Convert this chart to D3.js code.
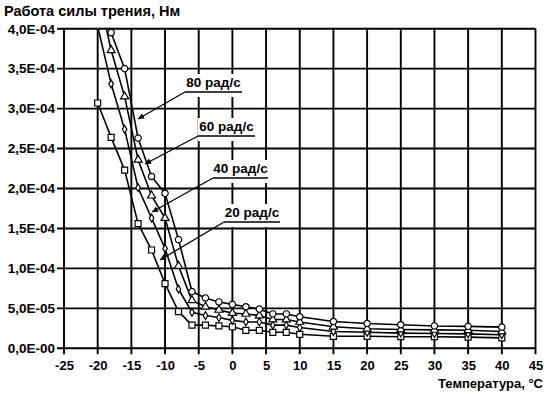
<!DOCTYPE html>
<html>
<head>
<meta charset="utf-8">
<script src="https://cdn.jsdelivr.net/npm/d3@7"></script>
<style>
body{margin:0;background:#fff;}
text{font-family:"Liberation Sans",Arial,sans-serif;font-weight:bold;fill:#000;}
</style>
</head>
<body>
<svg id="chart" width="549" height="394"></svg>
<script>
// donnees
var temps = [-20,-18,-16,-14,-12,-10,-8,-6,-4,-2,0,2,4,6,8,10,15,20,25,30,35,40];
var s20 = [30.7e-5,26.4e-5,22.3e-5,15.6e-5,12.3e-5,8.1e-5,4.6e-5,2.9e-5,2.9e-5,2.8e-5,2.7e-5,2.25e-5,2.25e-5,2.0e-5,2.0e-5,1.75e-5,1.5e-5,1.5e-5,1.45e-5,1.45e-5,1.4e-5,1.3e-5];
var s40 = [40.3e-5,33.1e-5,27.4e-5,20.1e-5,16.3e-5,12.5e-5,7.4e-5,4.5e-5,4.1e-5,3.85e-5,3.5e-5,3.3e-5,3.3e-5,2.9e-5,2.9e-5,2.6e-5,2.1e-5,2.0e-5,1.9e-5,1.85e-5,1.8e-5,1.7e-5];
var s60 = [45e-5,37.3e-5,31.5e-5,23.6e-5,19.1e-5,16.3e-5,10.3e-5,6.0e-5,5.2e-5,4.8e-5,4.4e-5,4.3e-5,4.1e-5,3.6e-5,3.6e-5,3.3e-5,2.7e-5,2.45e-5,2.35e-5,2.3e-5,2.25e-5,2.1e-5];
var s80 = [45e-5,39.5e-5,35.0e-5,26.3e-5,21.5e-5,19.4e-5,13.6e-5,7.1e-5,6.3e-5,5.8e-5,5.5e-5,5.2e-5,4.9e-5,4.3e-5,4.3e-5,3.95e-5,3.35e-5,3.1e-5,2.95e-5,2.8e-5,2.75e-5,2.65e-5];
var seriesNames = ["20 рад/с","40 рад/с","60 рад/с","80 рад/с"];
var xTicks = [-25,-20,-15,-10,-5,0,5,10,15,20,25,30,35,40,45];
var yTicks = [0,5e-5,1e-4,1.5e-4,2e-4,2.5e-4,3e-4,3.5e-4,4e-4];

var series = [
	{nom:seriesNames[0], vals:s20, sym:d3.symbolSquare, size:36},
	{nom:seriesNames[1], vals:s40, sym:d3.symbolDiamond, size:18},
	{nom:seriesNames[2], vals:s60, sym:d3.symbolTriangle, size:28},
	{nom:seriesNames[3], vals:s80, sym:d3.symbolCircle, size:32}
];

// etiquettes avec fleches (pixels)
var etiq = [
	{i:3, x0:185, x1:242, y:92,  tx:138, ty:119},
	{i:2, x0:198, x1:255, y:136, tx:145, ty:164},
	{i:1, x0:213, x1:268, y:178, tx:152, ty:212},
	{i:0, x0:224, x1:280, y:222, tx:160, ty:260}
];

var svg = d3.select("#chart");
var L = 64, R = 535.5, T = 28.7, B = 348.3;

var x = d3.scaleLinear().domain([-25,45]).range([L,R]);
var y = d3.scaleLinear().domain([0,4e-4]).range([B,T]);

function fmtY(v){
	if(v==0) return "0,0E-00";
	var e = Math.floor(Math.log10(v)+1e-9);
	var m = v/Math.pow(10,e);
	return m.toFixed(1).replace(".",",")+"E-"+(e<0?("0"+(-e)).slice(-2):"00");
}

// grille
var grille = svg.append("g");
grille.selectAll(".gv").data(xTicks).enter().append("line")
	.attr("x1",function(d){return x(d);}).attr("x2",function(d){return x(d);})
	.attr("y1",T).attr("y2",B+6)
	.attr("stroke","#000").attr("stroke-width",1.9);
grille.selectAll(".gh").data(yTicks).enter().append("line")
	.attr("x1",L-7).attr("x2",R)
	.attr("y1",function(d){return y(d);}).attr("y2",function(d){return y(d);})
	.attr("stroke","#000").attr("stroke-width",1.9);

// axes (textes seulement)
var axeX = svg.append("g").attr("transform","translate(0,"+B+")")
	.call(d3.axisBottom(x).tickValues(xTicks).tickSize(6).tickFormat(function(d){return String(d);}));
axeX.select(".domain").remove();
axeX.selectAll("line").remove();
axeX.selectAll("text").attr("font-size","13px").attr("y",12).attr("dy","0.71em")
	.style("font-family","Liberation Sans, Arial, sans-serif").style("font-weight","bold");

var axeY = svg.append("g").attr("transform","translate("+L+",0)")
	.call(d3.axisLeft(y).tickValues(yTicks).tickSize(7).tickFormat(fmtY));
axeY.select(".domain").remove();
axeY.selectAll("line").remove();
axeY.selectAll("text").attr("font-size","13.5px").attr("x",-9)
	.style("font-family","Liberation Sans, Arial, sans-serif").style("font-weight","bold");

svg.append("text").attr("x",4).attr("y",16).attr("font-size","14.5px").text("Работа силы трения, Нм");
svg.append("text").attr("x",543).attr("y",388).attr("text-anchor","end").attr("font-size","13px").text("Температура, °С");

// courbes
svg.append("clipPath").attr("id","zone").append("rect")
	.attr("x",L-5).attr("y",T-1).attr("width",R-L+10).attr("height",B-T+6);

var ligne = d3.line().x(function(d){return x(d[0]);}).y(function(d){return y(d[1]);});
var courbes = svg.append("g").attr("clip-path","url(#zone)");
series.forEach(function(s){
	var pts = temps.map(function(t,k){return [t,s.vals[k]];});
	courbes.append("path").datum(pts).attr("d",ligne)
		.attr("fill","none").attr("stroke","#000").attr("stroke-width",1.6);
	courbes.selectAll(null).data(pts).enter().append("path")
		.attr("d",d3.symbol().type(s.sym).size(s.size))
		.attr("transform",function(d){return "translate("+x(d[0])+","+y(d[1])+")";})
		.attr("fill","#fff").attr("stroke","#000").attr("stroke-width",1.2);
});

// fleches
svg.append("defs").append("marker").attr("id","fl")
	.attr("viewBox","0 0 10 10").attr("refX",10).attr("refY",5)
	.attr("markerWidth",9).attr("markerHeight",6).attr("markerUnits","userSpaceOnUse")
	.attr("orient","auto")
	.append("path").attr("d","M0,0 L10,5 L0,10 z").attr("fill","#000");

var grEtiq = svg.append("g");
etiq.forEach(function(e){
	grEtiq.append("rect").attr("x",e.x0).attr("y",e.y-18).attr("width",e.x1-e.x0).attr("height",23).attr("fill","#fff");
	grEtiq.append("line").attr("x1",e.x0).attr("x2",e.x1).attr("y1",e.y).attr("y2",e.y)
		.attr("stroke","#000").attr("stroke-width",1.3);
	grEtiq.append("line").attr("x1",e.x0).attr("y1",e.y).attr("x2",e.tx).attr("y2",e.ty)
		.attr("stroke","#000").attr("stroke-width",1.3).attr("marker-end","url(#fl)");
	grEtiq.append("text").attr("x",(e.x0+e.x1)/2).attr("y",e.y-5).attr("text-anchor","middle")
		.attr("font-size","13.5px").text(series[e.i].nom);
});
</script>
</body>
</html>
